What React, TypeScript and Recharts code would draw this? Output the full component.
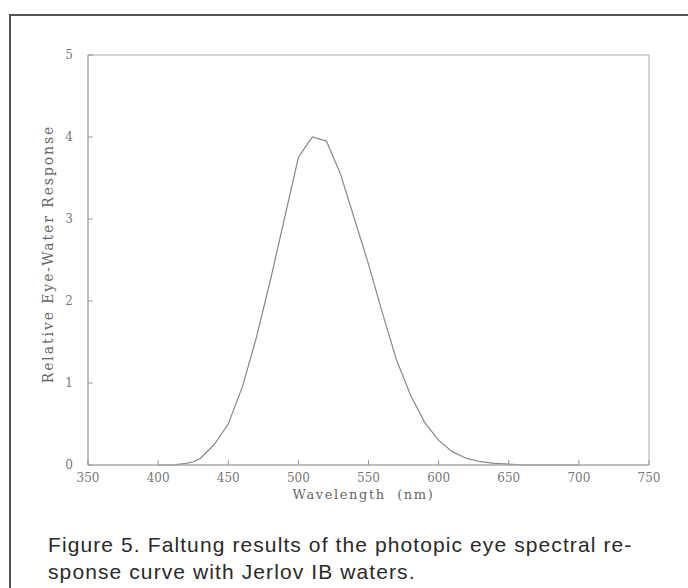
import React from 'react';
import { LineChart, Line, XAxis, YAxis, ReferenceArea, Label } from 'recharts';

const wavelengths = [400, 410, 420, 425, 430, 440, 450, 460, 470, 480, 490, 500, 505, 510, 520, 530, 540, 550, 560, 570, 580, 590, 600, 610, 620, 630, 640, 650, 660, 680, 700];
const response = [0.0, 0.0, 0.02, 0.04, 0.08, 0.25, 0.5, 0.95, 1.55, 2.25, 3.0, 3.75, 3.88, 4.0, 3.95, 3.55, 3.0, 2.45, 1.85, 1.28, 0.85, 0.52, 0.3, 0.16, 0.08, 0.04, 0.02, 0.01, 0.0, 0.0, 0.0];
const xTicks = [350, 400, 450, 500, 550, 600, 650, 700, 750];
const yTicks = [0, 1, 2, 3, 4, 5];

const data = wavelengths.map((w, i) => ({ w, r: response[i] }));

const axisFont = '"DejaVu Serif", "Liberation Serif", serif';

const XTick = (props: any) => {
  const { x, y, payload } = props;
  return (
    <g>
      <line x1={x} x2={x} y1={y} y2={y - 5} stroke="#999" />
      <text x={x} y={y + 17} textAnchor="middle" fontSize={12} fill="#777" fontFamily={axisFont}>
        {payload.value}
      </text>
    </g>
  );
};

const YTick = (props: any) => {
  const { x, y, payload } = props;
  return (
    <g>
      <line x1={x} x2={x + 5} y1={y} y2={y} stroke="#999" />
      <text x={x - 15} y={y + 4} textAnchor="end" fontSize={12} fill="#777" fontFamily={axisFont}>
        {payload.value}
      </text>
    </g>
  );
};

export default function App() {
  return (
    <div style={{ position: 'relative', width: 688, height: 588, background: '#fff', overflow: 'hidden' }}>
      <style>{'body{margin:0}'}</style>
      <div style={{ position: 'absolute', left: 9, top: 14, width: 700, height: 600, borderLeft: '2px solid #555', borderTop: '2px solid #555' }} />
      <LineChart width={688} height={588} data={data} margin={{ top: 55, right: 39, left: 0, bottom: 0 }}>
        <XAxis
          dataKey="w"
          type="number"
          domain={[350, 750]}
          ticks={xTicks}
          height={123}
          tickSize={0}
          tickMargin={0}
          tick={<XTick />}
          axisLine={{ stroke: '#aaa' }}
        >
          <Label value={'Wavelength\u00a0\u00a0(nm)'} position="insideTop" offset={25} dx={-5} fontSize={13} fill="#666" fontFamily={axisFont} style={{ letterSpacing: 1.6 }} />
        </XAxis>
        <YAxis
          type="number"
          domain={[0, 5]}
          ticks={yTicks}
          width={88}
          tickSize={0}
          tickMargin={0}
          tick={<YTick />}
          axisLine={{ stroke: '#aaa' }}
        >
          <Label value="Relative Eye-Water Response" position="center" angle={-90} dx={4} dy={-6} fontSize={14} fill="#666" fontFamily={axisFont} style={{ letterSpacing: 1.9 }} />
        </YAxis>
        <ReferenceArea x1={350} x2={750} y1={0} y2={5} fill="none" stroke="#aaa" />
        <Line type="linear" dataKey="r" stroke="#888" strokeWidth={1.2} dot={false} isAnimationActive={false} />
      </LineChart>
      <div
        style={{
          position: 'absolute',
          left: 48,
          top: 531,
          fontFamily: '"Liberation Sans", sans-serif',
          fontSize: 21,
          lineHeight: '27px',
          letterSpacing: 1.1,
          color: '#2a2a2a',
          whiteSpace: 'nowrap',
        }}
      >
        Figure 5. Faltung results of the photopic eye spectral re-
        <br />
        sponse curve with Jerlov IB waters.
      </div>
    </div>
  );
}
